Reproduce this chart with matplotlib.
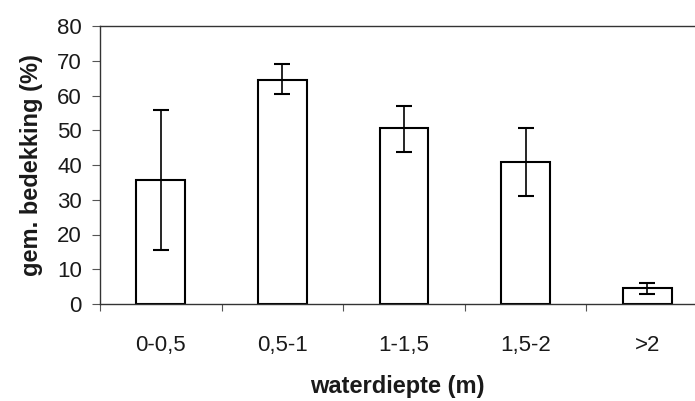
import matplotlib
matplotlib.use("Agg")
import matplotlib.pyplot as plt
import numpy as np

categories = ["0-0,5", "0,5-1", "1-1,5", "1,5-2", ">2"]
means = [35.7, 64.5, 50.6, 40.9, 4.6]
err_low = [20.2, 4.0, 6.9, 9.8, 1.7]
err_high = [20.1, 4.5, 6.4, 9.8, 1.4]

plt.rcParams['font.family'] = ['Liberation Sans', 'DejaVu Sans']

fig = plt.figure(figsize=(6.95, 4.01), dpi=100)
ax = fig.add_axes([100/695, 97/401, 595/695, 278/401])

x = np.arange(len(categories)) + 0.5
ax.bar(x, means, width=0.4, color='white', edgecolor='black', linewidth=1.5, zorder=2)
ax.errorbar(x, means, yerr=[err_low, err_high], fmt='none', ecolor='black',
            elinewidth=1.2, capsize=5.5, capthick=1.5, zorder=3)

ax.set_xlim(0, 595/121.6)
ax.set_ylim(0, 80)
ax.set_yticks(range(0, 81, 10))
ax.set_xticks(x)
ax.set_xticklabels(categories, fontsize=16, color='#1a1a1a')
ax.set_xticks(np.arange(0, 5), minor=True)
ax.tick_params(axis='x', which='major', length=0, pad=22)
ax.tick_params(axis='x', which='minor', length=5, width=0.8, direction='out', color='#555555')
ax.tick_params(axis='y', labelsize=16, labelcolor='#1a1a1a', length=6, width=0.8,
               color='#555555', pad=7)

for s in ['left', 'bottom', 'top']:
    ax.spines[s].set_linewidth(1.0)
    ax.spines[s].set_color('#333333')
ax.spines['right'].set_visible(False)

ax.set_ylabel('gem. bedekking (%)', fontsize=17, fontweight='bold', labelpad=10, color='#1a1a1a')
ax.set_xlabel('waterdiepte (m)', fontsize=17, fontweight='bold', labelpad=14, color='#1a1a1a')

fig.savefig('out.png', dpi=100)
